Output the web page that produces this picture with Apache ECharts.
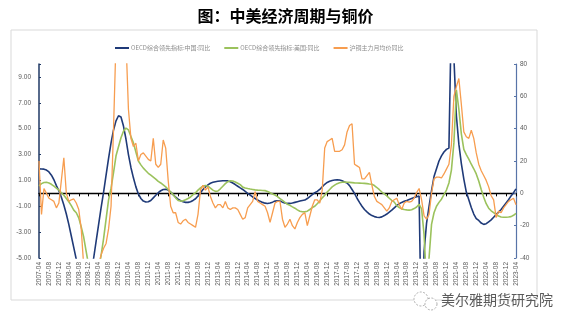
<!DOCTYPE html>
<html>
<head>
<meta charset="utf-8">
<script src="https://cdn.jsdelivr.net/npm/echarts@6/dist/echarts.min.js"></script>
<style>
  html, body { margin: 0; padding: 0; background: #ffffff; }
  #chart { width: 571px; height: 328px; }
</style>
</head>
<body>
<div id="chart"></div>
<script>
// Monthly categories 2007-04 .. 2023-04
const startYear = 2007, startMonth = 4, monthCount = 193;
const months = [];
for (let k = 0; k < monthCount; k++) {
  const m = startMonth - 1 + k;
  const y = startYear + Math.floor(m / 12);
  const mm = (m % 12) + 1;
  months.push(y + '-' + (mm < 10 ? '0' + mm : mm));
}

const seriesNames = ['OECD综合领先指标:中国:同比', 'OECD综合领先指标:美国:同比', '沪铜主力月均价同比'];

// OECD composite leading indicator, China, yoy (%)
const chinaCLI = [
  1.89, 1.88, 1.87, 1.8, 1.65, 1.4, 1.05, 0.6, 0.2, -0.3,
  -0.9, -1.6, -2.4, -3.3, -4.2, -5.1, -6.0, -6.8, -7.3, -7.5,
  -7.2, -6.3, -5.0, -3.7, -2.4, -1.1, 0.1, 1.4, 2.7, 3.9,
  4.9, 5.6, 6.0, 5.9, 5.2, 4.2, 3.0, 2.0, 1.2, 0.5,
  -0.05, -0.4, -0.6, -0.67, -0.65, -0.55, -0.35, -0.15, 0.05, 0.2,
  0.3, 0.32, 0.25, 0.1, -0.1, -0.3, -0.45, -0.57, -0.65, -0.7,
  -0.7, -0.65, -0.55, -0.42, -0.2, 0.05, 0.3, 0.5, 0.65, 0.78,
  0.85, 0.9, 0.93, 0.95, 0.97, 0.97, 0.96, 0.9, 0.8, 0.68,
  0.55, 0.42, 0.3, 0.15, 0.0, -0.13, -0.28, -0.4, -0.52, -0.62,
  -0.7, -0.76, -0.78, -0.75, -0.68, -0.6, -0.57, -0.6, -0.68, -0.75,
  -0.78, -0.78, -0.75, -0.7, -0.65, -0.6, -0.55, -0.52, -0.4, -0.25,
  -0.1, 0.05, 0.15, 0.3, 0.5, 0.7, 0.84, 0.93, 0.99, 1.03,
  1.05, 1.03, 0.97, 0.88, 0.8, 0.6, 0.3, 0.0, -0.38, -0.7,
  -1.0, -1.25, -1.43, -1.6, -1.72, -1.8, -1.85, -1.87, -1.82, -1.72,
  -1.6, -1.45, -1.3, -1.12, -0.95, -0.8, -0.7, -0.62, -0.55, -0.47,
  -0.4, -0.33, -0.26, -0.2, -12.0, -4.5, -2.3, -1.0, 0.2, 1.3,
  1.9, 2.5, 2.9, 3.2, 3.4, 3.5, 14.0, 10.5, 6.0, 3.8,
  2.3, 1.1, 0.1, -0.5, -1.1, -1.6, -1.95, -2.1, -2.3, -2.4,
  -2.35, -2.2, -2.05, -1.85, -1.65, -1.45, -1.25, -1.0, -0.75, -0.5,
  -0.2, 0.05, 0.35
];

// OECD composite leading indicator, USA, yoy (%)
const usCLI = [
  0.58, 0.75, 0.84, 0.85, 0.8, 0.7, 0.55, 0.4, 0.25, 0.05,
  -0.15, -0.4, -0.65, -0.95, -1.3, -1.5, -1.9, -2.6, -3.4, -4.5,
  -5.6, -6.5, -7.0, -6.8, -6.0, -4.8, -3.5, -2.0, -0.5, 0.4,
  1.6, 2.9, 3.6, 4.3, 4.8, 5.05, 4.9, 4.4, 3.9, 3.2,
  2.5, 2.2, 1.95, 1.75, 1.55, 1.4, 1.25, 1.1, 0.92, 0.8,
  0.65, 0.5, 0.3, 0.1, -0.1, -0.35, -0.55, -0.6, -0.58, -0.5,
  -0.4, -0.28, -0.1, 0.05, 0.25, 0.42, 0.56, 0.6, 0.55, 0.4,
  0.25, 0.15, 0.18, 0.35, 0.55, 0.75, 0.9, 0.97, 0.95, 0.88,
  0.78, 0.67, 0.48, 0.42, 0.37, 0.33, 0.3, 0.27, 0.25, 0.24,
  0.22, 0.21, 0.15, 0.05, -0.05, -0.13, -0.25, -0.4, -0.55, -0.7,
  -0.85, -0.93, -1.05, -1.15, -1.28, -1.38, -1.42, -1.43, -1.38, -1.25,
  -1.1, -1.0, -0.8, -0.6, -0.35, -0.15, 0.1, 0.3, 0.5, 0.63,
  0.75, 0.82, 0.86, 0.87, 0.86, 0.85, 0.83, 0.81, 0.8, 0.79,
  0.78, 0.77, 0.75, 0.72, 0.7, 0.6, 0.45, 0.28, 0.1, -0.05,
  -0.2, -0.38, -0.55, -0.68, -0.95, -1.1, -1.2, -1.25, -1.28, -1.3,
  -1.27, -1.18, -1.06, -0.85, -1.2, -3.2, -7.0, -5.0, -2.4, -1.5,
  -1.0, -0.7, -0.45, -0.1, 0.25, 0.8, 1.8, 3.9, 8.0, 6.5,
  4.6, 3.4, 3.0, 2.65, 2.25, 1.9, 1.5, 0.95, 0.3, -0.3,
  -0.8, -1.15, -1.35, -1.5, -1.65, -1.75, -1.83, -1.85, -1.85, -1.83,
  -1.8, -1.7, -1.55
];

// SHFE copper main contract, monthly average price yoy (%)
const copperYoY = [
  20, -13, 3, 0, -3, -4, -5, -9, -6, 8,
  22, 0, -5, -4, -3.5, -6, -10, -22, -45, -55,
  -58, -60, -56, -50, -44, -38, -34, -31, -22, -8,
  40, 95, 120, 140, 125, 95, 52, 34, 29, 31,
  20, 24, 25, 23, 21, 20, 34, 18, 16, 18,
  33, 28, 8, -8, -12, -12, -18, -19, -17, -16,
  -18, -19, -20, -21, -13, 2, 5, 2, 4, -2,
  -6, -9, -7, -7, -9, -5, -9, -10, -9, -9,
  -10, -13, -16, -15, -9, -7, -5, 1, -5, -6,
  -7, -8, -12, -18, -12, -6, -5, -5, -16, -21,
  -19, -16, -20, -22, -18, -15, -13, -12, -20, -14,
  -8, -4, -4, -6, 2, 28, 32, 33, 34, 26,
  26, 26, 27, 30, 38, 42, 43, 18, 17, 16,
  9, 9, 11, 13, 5, -2, -5, -6, -7, -9,
  -11, -9, -5, -4, -3, -7, -10, -6, -5, -5.5,
  -5, -3, 0.5, 3, -4, -14, -16, -13, 0, 9,
  10, 10, 9.5, 12, 15, 18, 30, 60, 66, 71,
  55, 38, 35, 34, 39, 34, 25, 18, 14, 11,
  8, 4, -1.5, -4, -15, -11, -12, -9, -7, -5,
  -4, -3, -7
];

// Axis tick ranges
const leftAxisRange = [-5, 10, 2];
const rightAxisRange = [-40, 80, 20];

const chart = echarts.init(document.getElementById('chart'), null, { renderer: 'canvas' });

const labelColor = '#595959';
const fontFamily = '"Liberation Sans", "Noto Sans CJK SC", sans-serif';

chart.setOption({
  backgroundColor: '#ffffff',
  animation: false,
  title: {
    text: '图：中美经济周期与铜价',
    left: 'center',
    top: 3,
    textStyle: {
      fontFamily: '"Noto Sans CJK SC", sans-serif',
      fontSize: 16,
      fontWeight: 'bold',
      color: '#000000'
    }
  },
  legend: {
    top: 40,
    left: 110,
    itemGap: 14,
    itemWidth: 14,
    itemHeight: 2,
    icon: 'rect',
    textStyle: { fontSize: 6, color: '#8c8c8c', fontFamily: '"Noto Sans CJK SC", sans-serif', padding: [0, 0, 0, -3] },
    data: seriesNames
  },
  grid: { left: 39, right: 55, top: 64, bottom: 70, containLabel: false },
  xAxis: [
    {
      type: 'category',
      data: months,
      boundaryGap: false,
      axisLine: { onZero: true, onZeroAxisIndex: 0, lineStyle: { color: '#000000', width: 1.4 } },
      axisTick: { show: true, interval: 3, length: 3, lineStyle: { color: '#000000', width: 1 } },
      axisLabel: { show: false },
      splitLine: { show: false }
    },
    {
      type: 'category',
      data: months,
      boundaryGap: false,
      position: 'bottom',
      axisLine: { show: false, onZero: false },
      axisTick: { show: false },
      axisLabel: {
        interval: 3,
        rotate: 90,
        margin: 4,
        fontSize: 6.5,
        color: labelColor,
        fontFamily: fontFamily
      },
      splitLine: { show: false }
    }
  ],
  yAxis: [
    {
      type: 'value',
      position: 'left',
      min: leftAxisRange[0],
      max: leftAxisRange[1],
      interval: leftAxisRange[2],
      axisLine: { show: true, lineStyle: { color: '#1f3864', width: 1.5 } },
      axisTick: { show: true, inside: true, length: 2, lineStyle: { color: '#1f3864' } },
      axisLabel: {
        margin: 8,
        fontSize: 6.5,
        color: labelColor,
        fontFamily: fontFamily,
        formatter: function (v) { return v > leftAxisRange[1] - 1 ? '' : v.toFixed(2); }
      },
      splitLine: { show: false }
    },
    {
      type: 'value',
      position: 'right',
      min: rightAxisRange[0],
      max: rightAxisRange[1],
      interval: rightAxisRange[2],
      axisLine: { show: true, lineStyle: { color: '#5874a8', width: 1.2 } },
      axisTick: { show: true, inside: true, length: 2, lineStyle: { color: '#5874a8' } },
      axisLabel: { margin: 4, fontSize: 6.5, color: labelColor, fontFamily: fontFamily },
      splitLine: { show: false }
    }
  ],
  series: [
    {
      name: seriesNames[0], type: 'line', xAxisIndex: 0, yAxisIndex: 0,
      data: chinaCLI, showSymbol: false, symbol: 'none', clip: true,
      itemStyle: { color: '#1f3a78' },
      lineStyle: { color: '#1f3a78', width: 1.6 }
    },
    {
      name: seriesNames[1], type: 'line', xAxisIndex: 0, yAxisIndex: 0,
      data: usCLI, showSymbol: false, symbol: 'none', clip: true,
      itemStyle: { color: '#9bc25c' },
      lineStyle: { color: '#9bc25c', width: 1.6 }
    },
    {
      name: seriesNames[2], type: 'line', xAxisIndex: 0, yAxisIndex: 1,
      data: copperYoY, showSymbol: false, symbol: 'none', clip: true,
      itemStyle: { color: '#f79d4f' },
      lineStyle: { color: '#f79d4f', width: 1.3 }
    }
  ],
  graphic: [
    {
      type: 'rect', z: -1, silent: true,
      shape: { x: 11, y: 30, width: 526, height: 270 },
      style: { fill: 'none', stroke: '#d9d9d9', lineWidth: 1 }
    },
    {
      type: 'circle', silent: true,
      shape: { cx: 421, cy: 299, r: 7 },
      style: { fill: '#ffffff', stroke: '#9a9a9a', lineWidth: 0.8, lineDash: [2, 1.5] }
    },
    {
      type: 'circle', silent: true,
      shape: { cx: 431, cy: 304, r: 6 },
      style: { fill: '#ffffff', stroke: '#9a9a9a', lineWidth: 0.8, lineDash: [2, 1.5] }
    },
    {
      type: 'text', silent: true,
      left: 441, top: 293,
      style: {
        text: '美尔雅期货研究院',
        fontSize: 14,
        fontFamily: '"Noto Sans CJK SC", sans-serif',
        fill: '#5a5a5a'
      }
    }
  ]
});
</script>
</body>
</html>
